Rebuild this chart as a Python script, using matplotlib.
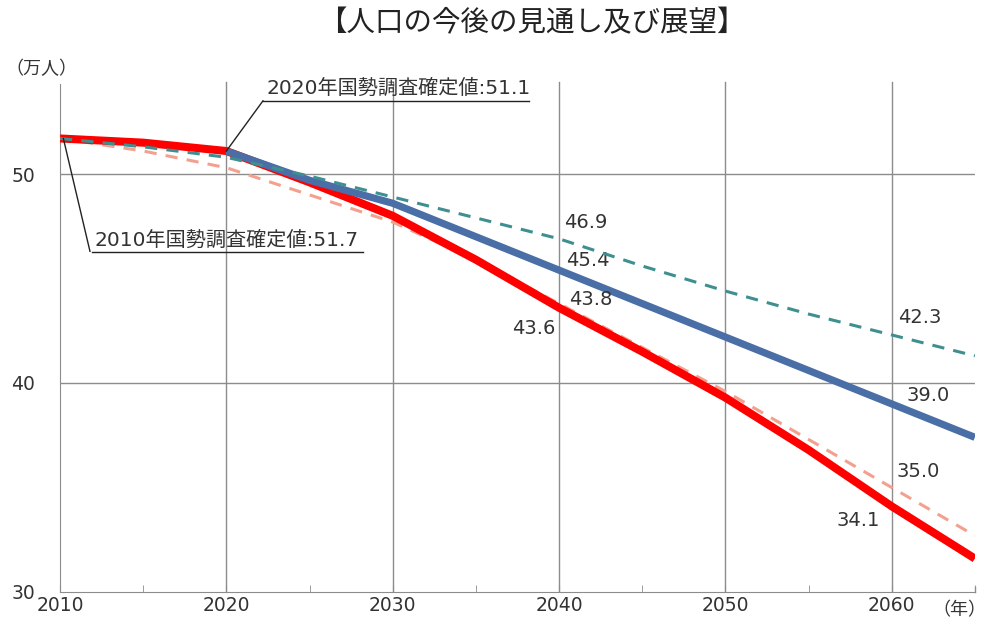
import matplotlib.pyplot as plt
from matplotlib.ticker import MultipleLocator

plt.rcParams['font.family'] = ['DejaVu Sans', 'Noto Sans CJK JP']

# 人口の今後の見通し (万人)
years = [2010, 2015, 2020, 2025, 2030, 2035, 2040, 2045, 2050, 2055, 2060, 2065]
red_vals = [51.7, 51.5, 51.1, 49.6, 48.0, 45.9, 43.6, 41.5, 39.3, 36.8, 34.1, 31.6]
salmon_vals = [51.7, 51.1, 50.3, 49.0, 47.7, 45.9, 43.8, 41.7, 39.6, 37.3, 35.0, 32.7]
teal_vals = [51.7, 51.3, 50.8, 49.9, 48.9, 47.9, 46.9, 45.6, 44.4, 43.3, 42.3, 41.3]
blue_years = [2020, 2025, 2030, 2035, 2040, 2045, 2050, 2055, 2060, 2065]
blue_vals = [51.1, 49.7, 48.6, 47.0, 45.4, 43.8, 42.2, 40.6, 39.0, 37.4]

fig = plt.figure(figsize=(9.89, 6.25), dpi=100)
ax = fig.add_axes([0.0607, 0.0528, 0.925, 0.836])

txtc = '#333333'
gridc = '#8c8c8c'
cjk = ['Noto Sans CJK JP', 'DejaVu Sans']

ax.plot(years, salmon_vals, color='#f4a08e', lw=2.2, ls=(0, (4, 3)), zorder=2)
ax.plot(years, red_vals, color='#ff0000', lw=5.8, zorder=3, solid_capstyle='butt')
ax.plot(blue_years, blue_vals, color='#4a6ea6', lw=5.2, zorder=3, solid_capstyle='butt')
ax.plot(years, teal_vals, color='#3f8f91', lw=2.2, ls=(0, (4, 3)), zorder=4)

ax.set_xlim(2010, 2065)
ax.set_ylim(30, 55)
ax.xaxis.set_major_locator(MultipleLocator(10))
ax.xaxis.set_minor_locator(MultipleLocator(5))
ax.set_yticks([30, 40, 50])
ax.set_xticks([2010, 2020, 2030, 2040, 2050, 2060])
ax.tick_params(axis='x', which='both', direction='in', length=5, color=gridc,
               labelsize=13.5, labelcolor=txtc, pad=3)
ax.tick_params(axis='y', length=0, labelsize=13.5, labelcolor=txtc, pad=18)
ax.xaxis.set_tick_params(which='minor', length=5)

for s in ['top', 'right']:
    ax.spines[s].set_visible(False)
ax.spines['left'].set_color(gridc)
ax.spines['bottom'].set_color(gridc)
ax.spines['left'].set_bounds(30, 54.3)

for x in [2020, 2030, 2040, 2050, 2060]:
    ax.axvline(x, color=gridc, lw=1, zorder=1, ymax=0.976)
for y in [40, 50]:
    ax.axhline(y, color=gridc, lw=1, zorder=1)
# tick at right end
ax.plot([2065, 2065], [30, 30.25], color=gridc, lw=1, clip_on=False)

# value labels
fs = 14
ax.text(2040.3, 47.7, '46.9', fontsize=fs, color=txtc, va='center', ha='left')
ax.text(2040.4, 45.85, '45.4', fontsize=fs, color=txtc, va='center', ha='left')
ax.text(2040.6, 44.0, '43.8', fontsize=fs, color=txtc, va='center', ha='left')
ax.text(2039.8, 42.6, '43.6', fontsize=fs, color=txtc, va='center', ha='right')
ax.text(2060.4, 43.15, '42.3', fontsize=fs, color=txtc, va='center', ha='left')
ax.text(2060.9, 39.4, '39.0', fontsize=fs, color=txtc, va='center', ha='left')
ax.text(2060.3, 35.75, '35.0', fontsize=fs, color=txtc, va='center', ha='left')
ax.text(2059.3, 33.4, '34.1', fontsize=fs, color=txtc, va='center', ha='right')

# census callouts (underlined, with leader lines)
lc = '#222222'
ax.plot([2020, 2022.2], [51.1, 53.5], color=lc, lw=1, zorder=5)
ax.plot([2022.2, 2038.2], [53.5, 53.5], color=lc, lw=1, clip_on=False)
ax.text(2022.4, 53.62, '2020年国勢調査確定値:51.1', fontsize=14.5, color=txtc,
        ha='left', va='bottom')

ax.plot([2010.2, 2011.8], [51.7, 46.3], color=lc, lw=1, zorder=5)
ax.plot([2011.9, 2028.2], [46.25, 46.25], color=lc, lw=1, clip_on=False)
ax.text(2012.1, 46.37, '2010年国勢調査確定値:51.7', fontsize=14.5, color=txtc,
        ha='left', va='bottom')

fig.text(0.538, 0.963, '【人口の今後の見通し及び展望】', fontsize=20.5, color='#222222',
         ha='center', va='center', family=cjk)
fig.text(0.005, 0.889, '（万人）', fontsize=13, color=txtc, ha='left', va='center',
         family=cjk)
fig.text(0.997, 0.024, '（年）', fontsize=13, color=txtc, ha='right', va='center',
         family=cjk)

fig.savefig('out.png', dpi=100)
